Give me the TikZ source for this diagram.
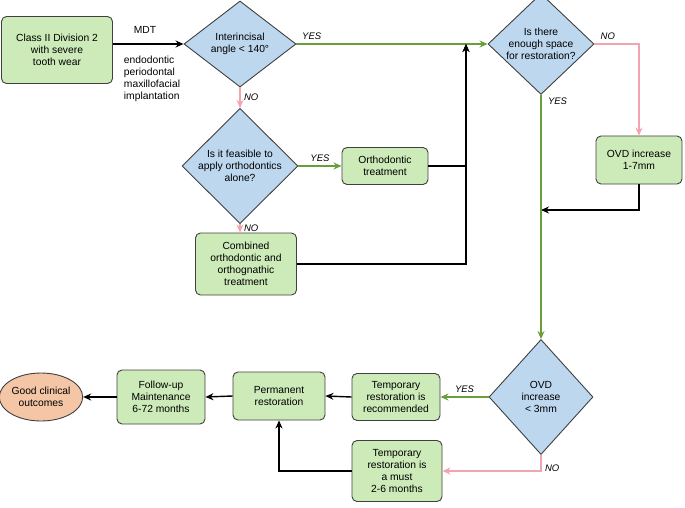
\documentclass[tikz,border=0pt]{standalone}
\usepackage{fontspec}
\setmainfont{Liberation Sans}
\usetikzlibrary{shapes.geometric,arrows.meta}
\begin{document}
\begin{tikzpicture}[x=1pt,y=-1pt,font=\fontsize{10.3}{12}\selectfont,
 box/.style={draw=black!75,line width=0.9pt,fill=boxg,rounded corners=5pt,align=center,inner sep=2pt},
 dia/.style={draw=black!75,line width=0.9pt,fill=diab,diamond,align=center,inner sep=0pt},
 g/.style={draw=arrg,line width=1.4pt,-{Stealth[length=8pt,width=7pt]}},
 p/.style={draw=arrp,line width=1.4pt,-{Stealth[length=8pt,width=7pt]}},
 k/.style={draw=black,line width=1.4pt,-{Stealth[length=8pt,width=7pt]}},
 lab/.style={font=\fontsize{9.5}{11}\selectfont\itshape}]
\definecolor{boxg}{HTML}{CDEAB9}
\definecolor{diab}{HTML}{BDD7EE}
\definecolor{arrg}{HTML}{6A9E3A}
\definecolor{arrp}{HTML}{F2A5AE}
\definecolor{ovl}{HTML}{F4C6A6}
\useasboundingbox (0,0) rectangle (685,508);
\node[box,minimum width=111pt,minimum height=67pt] (a) at (57,50) {Class II Division 2\\with severe\\tooth wear};
\node[dia,minimum width=112pt,minimum height=86pt] (d1) at (240,44) {Interincisal\\angle < 140°};
\node[dia,minimum width=106pt,minimum height=86pt] (d2) at (541,44) {Is there\\enough space\\for restoration?};
\node[box,minimum width=86pt,minimum height=48pt] (ovd) at (639,160) {OVD increase\\1-7mm};
\node[dia,minimum width=116pt,minimum height=84pt] (d3) at (240,166) {Is it feasible to\\apply orthodontics\\alone?};
\node[box,minimum width=86pt,minimum height=37pt] (o) at (385,166) {Orthodontic\\treatment};
\node[box,minimum width=101pt,minimum height=62pt] (c) at (246,264) {Combined\\orthodontic and\\orthognathic\\treatment};
\node[dia,minimum width=104pt,minimum height=115pt] (d4) at (541,397) {OVD\\increase\\< 3mm};
\node[box,minimum width=88pt,minimum height=47pt] (tr) at (396,397) {Temporary\\restoration is\\recommended};
\node[box,minimum width=90pt,minimum height=61pt] (tm) at (397,471) {Temporary\\restoration is\\a must\\2-6 months};
\node[box,minimum width=92pt,minimum height=48pt] (pr) at (279,396) {Permanent\\restoration};
\node[box,minimum width=88pt,minimum height=54pt] (fu) at (161,397) {Follow-up\\Maintenance\\6-72 months};
\node[draw=black!75,line width=0.9pt,fill=ovl,ellipse,minimum width=78pt,minimum height=48pt,inner sep=0pt,align=center] (gc) at (41,397) {Good clinical\\outcomes};
\node (mdt) at (145,30) {MDT};
\node[align=left] (sp) at (152,79) {endodontic\\periodontal\\maxillofacial\\implantation};
\coordinate (j) at (466,44);
\coordinate (m) at (541,210);
\draw[k] (a.east |- d1) -- (d1.west);
\draw[g] (d1.east) -- (d2.west) node[lab,pos=0.08,above] {YES};
\draw[p] (d1.south) -- (d3.north) node[lab,midway,right] {NO};
\draw[g] (d3.east) -- (o.west) node[lab,midway,above] {YES};
\draw[p] (d3.south) -- (c.north -| d3.south) node[lab,midway,right] {NO};
\draw[k] (o.east) -| (j);
\draw[k] (c.east) -| (j);
\draw[p] (d2.east) -| (ovd.north) node[lab,pos=0.15,above] {NO};
\draw[k] (ovd.south) |- (m);
\draw[g] (d2.south) -- (d4.north) node[lab,pos=0.05,right,xshift=3pt,yshift=6pt] {YES};
\draw[g] (d4.west) -- (tr.east) node[lab,midway,above] {YES};
\draw[p] (d4.south) |- (tm.east) node[lab,pos=0.4,right] {NO};
\draw[k] (tr.west) -- (pr.east);
\draw[k] (tm.west) -| (pr.south);
\draw[k] (pr.west) -- (fu.east);
\draw[k] (fu.west) -- (gc.east);
\end{tikzpicture}
\end{document}
